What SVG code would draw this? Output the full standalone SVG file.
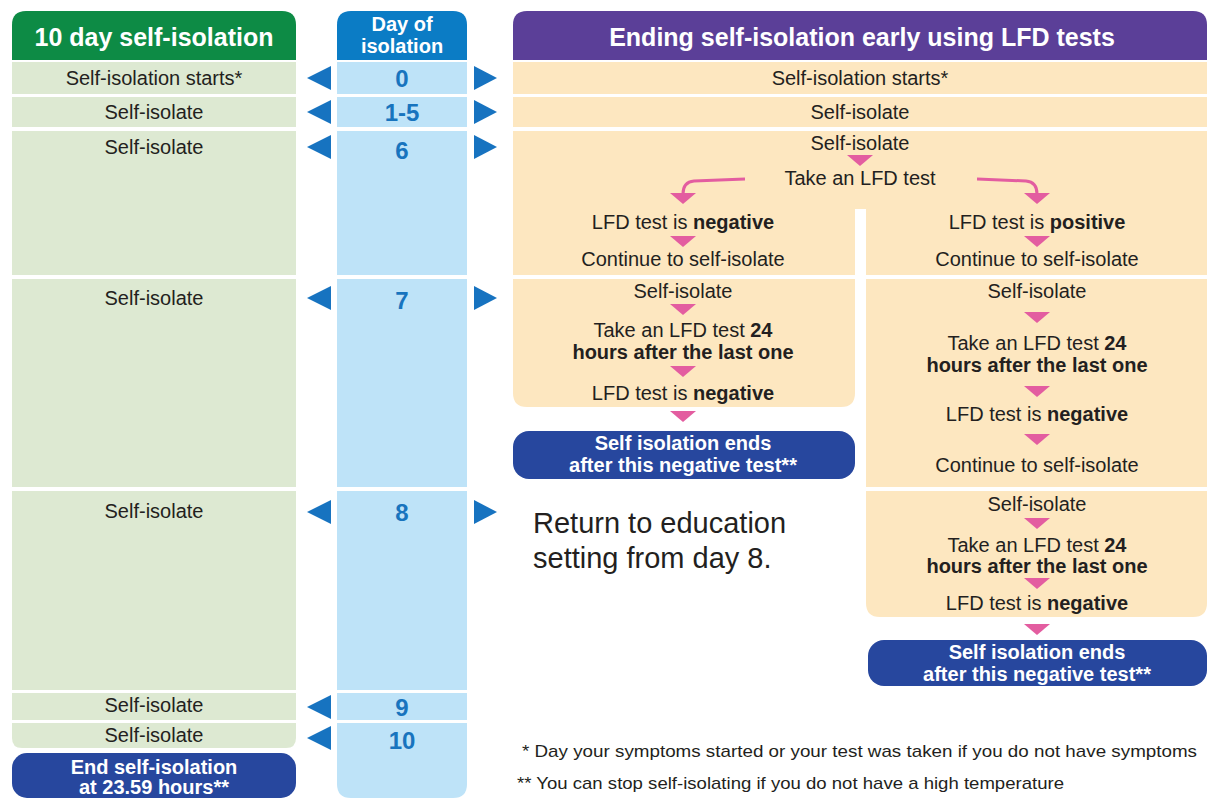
<svg xmlns="http://www.w3.org/2000/svg" xmlns:xlink="http://www.w3.org/1999/xlink" width="1214" height="798" viewBox="0 0 1214 798">
<style>
text{font-family:"Liberation Sans",Arial,sans-serif;fill:#231f20;text-anchor:middle}
.t{font-size:20px}
.b{font-weight:bold}
.hd{font-size:25px;font-weight:bold;fill:#fff}
.hs{font-size:20px;font-weight:bold;fill:#fff}
.wb{font-size:20px;font-weight:bold;fill:#fff}
.num{font-size:24px;font-weight:bold;fill:#1874be}
.g{fill:#dde9d2}
.lb{fill:#bee3f8}
.be{fill:#fde7c0}
.db{fill:#27479e}
.ba{fill:#1773c0}
.pk{fill:#e35da0}
.cv{fill:none;stroke:#e35da0;stroke-width:3}
.fn{font-size:17px;text-anchor:start}
</style>
<defs>
<polygon id="pt" points="-13,0 13,0 0,11" class="pk"/>
<polygon id="la" points="0,0 24,-12 24,12" class="ba"/>
<polygon id="ra" points="0,-12 0,12 23,0" class="ba"/>
</defs>
<rect width="1214" height="798" fill="#fff"/>

<g id="left-column">
<path d="M12,60 V25 Q12,11 26,11 H282 Q296,11 296,25 V60 Z" fill="#0d8b45"/>
<text x="154" y="46" class="hd">10 day self-isolation</text>
<rect x="12" y="62" width="284" height="32" class="g"/>
<text x="154" y="85" class="t">Self-isolation starts*</text>
<rect x="12" y="97" width="284" height="30" class="g"/>
<text x="154" y="119" class="t">Self-isolate</text>
<rect x="12" y="131" width="284" height="144" class="g"/>
<text x="154" y="154" class="t">Self-isolate</text>
<rect x="12" y="279" width="284" height="208" class="g"/>
<text x="154" y="305" class="t">Self-isolate</text>
<rect x="12" y="491" width="284" height="199" class="g"/>
<text x="154" y="518" class="t">Self-isolate</text>
<rect x="12" y="693" width="284" height="27" class="g"/>
<text x="154" y="712" class="t">Self-isolate</text>
<path d="M12,723 H296 V738 Q296,748 286,748 H22 Q12,748 12,738 Z" class="g"/>
<text x="154" y="742" class="t">Self-isolate</text>
</g>

<g id="end-10day">
<rect x="12" y="753" width="284" height="45" rx="15" class="db"/>
<text x="154" y="774" class="wb">End self-isolation</text>
<text x="154" y="794" class="wb">at 23.59 hours**</text>
</g>

<g id="day-column">
<path d="M337,60 V25 Q337,11 351,11 H453 Q467,11 467,25 V60 Z" fill="#0b7cc5"/>
<text x="402" y="31" class="hs">Day of</text>
<text x="402" y="53" class="hs">isolation</text>
<rect x="337" y="62" width="130" height="32" class="lb"/>
<text x="402" y="87" class="num">0</text>
<rect x="337" y="97" width="130" height="30" class="lb"/>
<text x="402" y="121" class="num">1-5</text>
<rect x="337" y="131" width="130" height="144" class="lb"/>
<text x="402" y="159" class="num">6</text>
<rect x="337" y="279" width="130" height="208" class="lb"/>
<text x="402" y="309" class="num">7</text>
<rect x="337" y="491" width="130" height="199" class="lb"/>
<text x="402" y="521" class="num">8</text>
<rect x="337" y="693" width="130" height="27" class="lb"/>
<text x="402" y="716" class="num">9</text>
<path d="M337,723 H467 V784 Q467,798 453,798 H351 Q337,798 337,784 Z" class="lb"/>
<text x="402" y="749" class="num">10</text>
</g>

<g id="lfd-column">
<path d="M513,60 V25 Q513,11 527,11 H1193 Q1207,11 1207,25 V60 Z" fill="#5b3f98"/>
<text x="862" y="46" class="hd">Ending self-isolation early using LFD tests</text>
<rect x="513" y="62" width="694" height="32" class="be"/>
<text x="860" y="85" class="t">Self-isolation starts*</text>
<rect x="513" y="97" width="694" height="30" class="be"/>
<text x="860" y="119" class="t">Self-isolate</text>
<rect x="513" y="131" width="694" height="144" class="be"/>
<rect x="855" y="209" width="11" height="70" fill="#fff"/>
<text x="860" y="150" class="t">Self-isolate</text>
<text x="860" y="185" class="t">Take an LFD test</text>
<text x="683" y="229" class="t">LFD test is <tspan class="b">negative</tspan></text>
<text x="683" y="266" class="t">Continue to self-isolate</text>
<text x="1037" y="229" class="t">LFD test is <tspan class="b">positive</tspan></text>
<text x="1037" y="266" class="t">Continue to self-isolate</text>
</g>

<g id="negative-day7">
<path d="M513,279 H855 V393 Q855,407 841,407 H527 Q513,407 513,393 Z" class="be"/>
<text x="683" y="298" class="t">Self-isolate</text>
<text x="683" y="337" class="t">Take an LFD test <tspan class="b">24</tspan></text>
<text x="683" y="359" class="t b">hours after the last one</text>
<text x="683" y="400" class="t">LFD test is <tspan class="b">negative</tspan></text>
</g>

<g id="ends-day7">
<rect x="513" y="431" width="342" height="48" rx="16" class="db"/>
<text x="683" y="450" class="wb">Self isolation ends</text>
<text x="683" y="472" class="wb">after this negative test**</text>
</g>

<g id="positive-day7">
<rect x="866" y="279" width="341" height="208" class="be"/>
<text x="1037" y="298" class="t">Self-isolate</text>
<text x="1037" y="350" class="t">Take an LFD test <tspan class="b">24</tspan></text>
<text x="1037" y="372" class="t b">hours after the last one</text>
<text x="1037" y="421" class="t">LFD test is <tspan class="b">negative</tspan></text>
<text x="1037" y="472" class="t">Continue to self-isolate</text>
</g>

<g id="positive-day8">
<path d="M866,491 H1207 V603 Q1207,617 1193,617 H880 Q866,617 866,603 Z" class="be"/>
<text x="1037" y="511" class="t">Self-isolate</text>
<text x="1037" y="552" class="t">Take an LFD test <tspan class="b">24</tspan></text>
<text x="1037" y="573" class="t b">hours after the last one</text>
<text x="1037" y="610" class="t">LFD test is <tspan class="b">negative</tspan></text>
</g>

<g id="ends-day8">
<rect x="868" y="640" width="339" height="46" rx="16" class="db"/>
<text x="1037" y="659" class="wb">Self isolation ends</text>
<text x="1037" y="681" class="wb">after this negative test**</text>
</g>

<g id="return-note">
<text x="533" y="533" style="font-size:29px;text-anchor:start">Return to education</text>
<text x="533" y="568" style="font-size:29px;text-anchor:start">setting from day 8.</text>
</g>

<g id="footnotes">
<text x="522" y="757" class="fn" textLength="675" lengthAdjust="spacingAndGlyphs">* Day your symptoms started or your test was taken if you do not have symptoms</text>
<text x="517" y="789" class="fn" textLength="547" lengthAdjust="spacingAndGlyphs">** You can stop self-isolating if you do not have a high temperature</text>
</g>

<g id="connectors">
<use xlink:href="#la" x="307" y="78"/>
<use xlink:href="#la" x="307" y="112"/>
<use xlink:href="#la" x="307" y="147"/>
<use xlink:href="#la" x="307" y="298"/>
<use xlink:href="#la" x="307" y="512"/>
<use xlink:href="#la" x="307" y="707"/>
<use xlink:href="#la" x="307" y="738"/>
<use xlink:href="#ra" x="474" y="78"/>
<use xlink:href="#ra" x="474" y="112"/>
<use xlink:href="#ra" x="474" y="147"/>
<use xlink:href="#ra" x="474" y="298"/>
<use xlink:href="#ra" x="474" y="512"/>

<use xlink:href="#pt" x="860" y="155"/>
<path d="M745,179 L694,181 Q683,182 683,194" class="cv"/>
<path d="M977,179 L1026,181 Q1037,182 1037,194" class="cv"/>
<use xlink:href="#pt" x="683" y="193"/>
<use xlink:href="#pt" x="1037" y="193"/>
<use xlink:href="#pt" x="683" y="236"/>
<use xlink:href="#pt" x="1037" y="236"/>
<use xlink:href="#pt" x="683" y="304"/>
<use xlink:href="#pt" x="683" y="366"/>
<use xlink:href="#pt" x="683" y="411"/>
<use xlink:href="#pt" x="1037" y="312"/>
<use xlink:href="#pt" x="1037" y="386"/>
<use xlink:href="#pt" x="1037" y="434"/>
<use xlink:href="#pt" x="1037" y="518"/>
<use xlink:href="#pt" x="1037" y="578"/>
<use xlink:href="#pt" x="1037" y="624"/>
</g>
</svg>
